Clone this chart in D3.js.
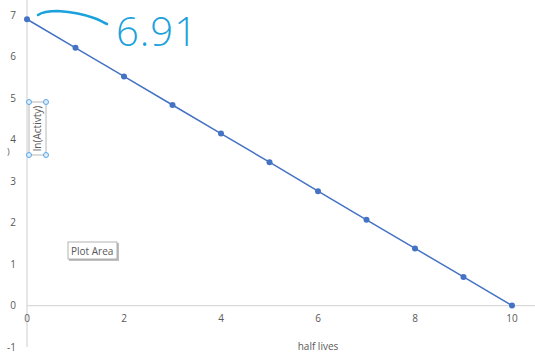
<!DOCTYPE html>
<html>
<head>
<meta charset="utf-8">
<script src="https://cdn.jsdelivr.net/npm/d3@7"></script>
<style>
  body { margin: 0; background: #fff; }
  text { font-family: "Open Sans", "Noto Sans", sans-serif; }
</style>
</head>
<body>
<div id="chart"></div>
<script>
const halfLives = [0, 1, 2, 3, 4, 5, 6, 7, 8, 9, 10];
const lnActivity = [6.91, 6.22, 5.53, 4.84, 4.15, 3.46, 2.76, 2.07, 1.38, 0.69, 0];
const yTicks = [-1, 0, 1, 2, 3, 4, 5, 6, 7];
const xTicks = [0, 2, 4, 6, 8, 10];

const width = 535;
const height = 356;

const svg = d3.select("#chart")
    .append("svg")
    .attr("width", width)
    .attr("height", height);

const x = d3.scaleLinear().domain([0, 10]).range([27, 512]);
const y = d3.scaleLinear().domain([-1, 7]).range([347, 15.5]);

// zero line (horizontal axis)
svg.append("line")
    .attr("x1", x(0)).attr("x2", width)
    .attr("y1", y(0)).attr("y2", y(0))
    .attr("stroke", "#d9d9d9")
    .attr("stroke-width", 1.3);

// vertical axis
svg.append("line")
    .attr("x1", x(0)).attr("x2", x(0))
    .attr("y1", 0).attr("y2", y(-1))
    .attr("stroke", "#d9d9d9")
    .attr("stroke-width", 1.3);

svg.selectAll(".ytick")
    .data(yTicks)
    .enter().append("text")
    .attr("class", "ytick")
    .attr("x", 16)
    .attr("y", d => y(d))
    .attr("dy", "0.35em")
    .attr("text-anchor", "end")
    .attr("font-size", 10)
    .attr("fill", "#595959")
    .text(d => d);

svg.selectAll(".xtick")
    .data(xTicks)
    .enter().append("text")
    .attr("class", "xtick")
    .attr("x", d => x(d))
    .attr("y", y(0) + 16)
    .attr("text-anchor", "middle")
    .attr("font-size", 10)
    .attr("fill", "#595959")
    .text(d => d);

const data = halfLives.map((h, i) => ({ h, v: lnActivity[i] }));

svg.append("path")
    .datum(data)
    .attr("fill", "none")
    .attr("stroke", "#4472c4")
    .attr("stroke-width", 1.5)
    .attr("d", d3.line().x(d => x(d.h)).y(d => y(d.v)));

svg.selectAll(".pt")
    .data(data)
    .enter().append("circle")
    .attr("class", "pt")
    .attr("cx", d => x(d.h))
    .attr("cy", d => y(d.v))
    .attr("r", 3)
    .attr("fill", "#4472c4");

// axis titles
svg.append("text")
    .attr("x", 318)
    .attr("y", 350)
    .attr("text-anchor", "middle")
    .attr("font-size", 10)
    .attr("fill", "#595959")
    .text("half lives");

// selected y-axis title box
const tb = svg.append("g");
tb.append("rect")
    .attr("x", 29).attr("y", 102)
    .attr("width", 17).attr("height", 53)
    .attr("fill", "none")
    .attr("stroke", "#a6a6a6")
    .attr("stroke-width", 0.8);
tb.append("text")
    .attr("transform", "translate(41,128.5) rotate(-90)")
    .attr("text-anchor", "middle")
    .attr("font-size", 10)
    .attr("fill", "#595959")
    .text("ln(Activty)");
tb.selectAll("circle")
    .data([[29, 102], [46, 102], [29, 155], [46, 155]])
    .enter().append("circle")
    .attr("cx", d => d[0]).attr("cy", d => d[1])
    .attr("r", 2.5)
    .attr("fill", "#ddeefc")
    .attr("stroke", "#5ba7e6")
    .attr("stroke-width", 1);

svg.append("text")
    .attr("x", 7)
    .attr("y", 155)
    .attr("font-size", 9)
    .attr("fill", "#595959")
    .text(")");

// "Plot Area" tooltip
const tip = svg.append("g");
tip.append("rect")
    .attr("x", 69).attr("y", 243)
    .attr("width", 50).attr("height", 18)
    .attr("fill", "#bfbfbf");
tip.append("rect")
    .attr("x", 68).attr("y", 242)
    .attr("width", 49).attr("height", 17)
    .attr("fill", "#fff")
    .attr("stroke", "#a0a0a0")
    .attr("stroke-width", 0.8);
tip.append("text")
    .attr("x", 71).attr("y", 254.5)
    .attr("font-size", 10)
    .attr("fill", "#575757")
    .text("Plot Area");

// hand-drawn annotation
svg.append("path")
    .attr("d", "M38,15 C42,12 48,11 58,11 C72,12 86,15 94,18 C100,20 104,23 107,24")
    .attr("fill", "none")
    .attr("stroke", "#1ba1dc")
    .attr("stroke-width", 2.5)
    .attr("stroke-linecap", "round");

svg.append("text")
    .attr("x", 116)
    .attr("y", 46)
    .attr("font-size", 40)
    .attr("font-family", "DejaVu Sans")
    .attr("font-weight", "200")
    .attr("letter-spacing", 1)
    .attr("fill", "#1ba1dc")
    .text("6.91");
</script>
</body>
</html>
